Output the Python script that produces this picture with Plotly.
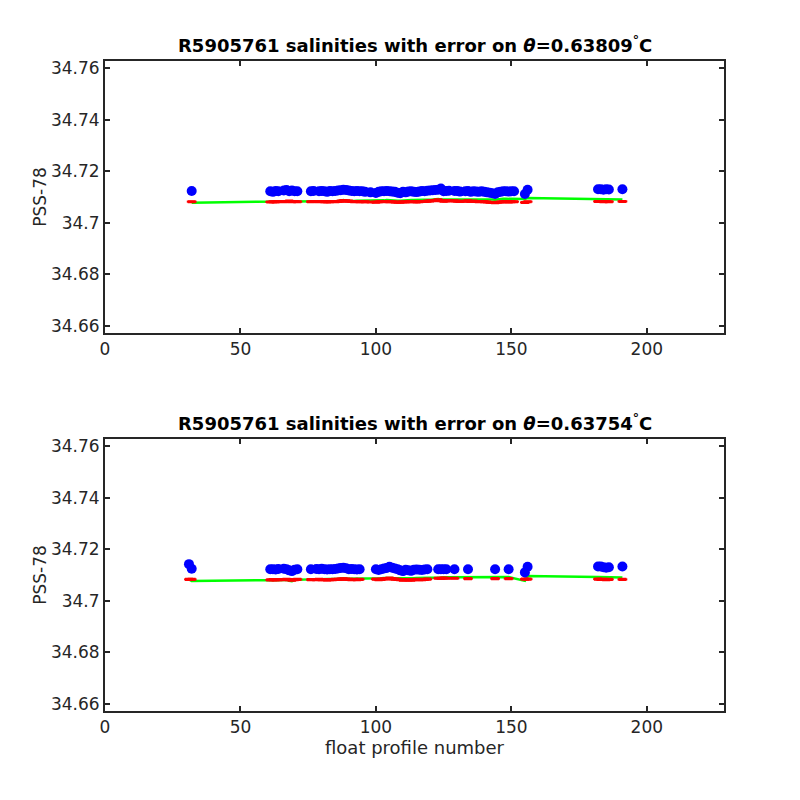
import plotly.graph_objects as go
from plotly.subplots import make_subplots

# ---------------- data ----------------
theta_top = "0.63809"
theta_bot = "0.63754"

prof_top = [32, 61, 62, 63, 64, 66, 67, 68, 69, 70,
            71, 76, 77, 79, 80, 81, 82, 83, 84, 85,
            86, 87, 88, 89, 90, 91, 92, 93, 94, 95,
            96, 98, 100, 101, 102, 103, 104, 105, 106, 107,
            108, 109, 110, 111, 112, 113, 114, 115, 116, 117,
            118, 119, 120, 121, 122, 123, 124, 125, 126, 127,
            129, 130, 131, 133, 134, 135, 136, 137, 138, 139,
            140, 141, 142, 143, 144, 145, 146, 147, 148, 149,
            150, 151, 155, 156, 182, 183, 184, 185, 186, 191]

sal_top = [34.7123, 34.7122, 34.7120, 34.7123, 34.7122, 34.7125, 34.7127, 34.7122, 34.7125, 34.7122,
           34.7122, 34.7122, 34.7123, 34.7122, 34.7123, 34.7122, 34.7120, 34.7123, 34.7122, 34.7123,
           34.7125, 34.7126, 34.7128, 34.7127, 34.7125, 34.7123, 34.7122, 34.7123, 34.7122, 34.7122,
           34.7120, 34.7118, 34.7116, 34.7120, 34.7122, 34.7122, 34.7123, 34.7122, 34.7121, 34.7120,
           34.7117, 34.7115, 34.7120, 34.7118, 34.7121, 34.7122, 34.7120, 34.7119, 34.7121, 34.7123,
           34.7122, 34.7124, 34.7125, 34.7126, 34.7127, 34.7128, 34.7133, 34.7122, 34.7123, 34.7124,
           34.7123, 34.7123, 34.7121, 34.7122, 34.7123, 34.7120, 34.7122, 34.7121, 34.7120, 34.7122,
           34.7120, 34.7118, 34.7117, 34.7115, 34.7112, 34.7118, 34.7120, 34.7122, 34.7122, 34.7121,
           34.7122, 34.7122, 34.7112, 34.7128, 34.7130, 34.7130, 34.7128, 34.7130, 34.7129, 34.7130]

map_top = [34.7082, 34.7081, 34.7082, 34.7081, 34.7083, 34.7082, 34.7083, 34.7084, 34.7082, 34.7083,
           34.7082, 34.7082, 34.7083, 34.7082, 34.7083, 34.7082, 34.7081, 34.7082, 34.7083, 34.7082,
           34.7083, 34.7084, 34.7086, 34.7085, 34.7084, 34.7083, 34.7082, 34.7083, 34.7082, 34.7082,
           34.7082, 34.7081, 34.7080, 34.7082, 34.7083, 34.7082, 34.7083, 34.7082, 34.7082, 34.7081,
           34.7080, 34.7080, 34.7082, 34.7081, 34.7082, 34.7083, 34.7082, 34.7081, 34.7082, 34.7083,
           34.7083, 34.7084, 34.7085, 34.7086, 34.7087, 34.7089, 34.7086, 34.7084, 34.7085, 34.7086,
           34.7085, 34.7084, 34.7083, 34.7084, 34.7085, 34.7083, 34.7084, 34.7083, 34.7082, 34.7083,
           34.7082, 34.7081, 34.7080, 34.7079, 34.7078, 34.7080, 34.7081, 34.7082, 34.7082, 34.7081,
           34.7082, 34.7082, 34.7079, 34.7082, 34.7083, 34.7083, 34.7082, 34.7083, 34.7082, 34.7083]

err_top = [0.0003] * 90

fit_top = [34.7078, 34.7081, 34.7080, 34.7081, 34.7082, 34.7081, 34.7083, 34.7084, 34.7082, 34.7083,
           34.7083, 34.7083, 34.7084, 34.7083, 34.7084, 34.7084, 34.7083, 34.7084, 34.7085, 34.7085,
           34.7085, 34.7086, 34.7088, 34.7086, 34.7085, 34.7086, 34.7085, 34.7086, 34.7086, 34.7086,
           34.7086, 34.7086, 34.7085, 34.7087, 34.7087, 34.7087, 34.7088, 34.7087, 34.7087, 34.7087,
           34.7086, 34.7086, 34.7087, 34.7087, 34.7088, 34.7088, 34.7088, 34.7088, 34.7088, 34.7089,
           34.7089, 34.7089, 34.7090, 34.7090, 34.7091, 34.7092, 34.7090, 34.7090, 34.7090, 34.7091,
           34.7091, 34.7091, 34.7091, 34.7091, 34.7092, 34.7091, 34.7092, 34.7092, 34.7092, 34.7092,
           34.7092, 34.7092, 34.7091, 34.7090, 34.7089, 34.7091, 34.7092, 34.7093, 34.7093, 34.7093,
           34.7093, 34.7094, 34.7092, 34.7096, 34.7091, 34.7091, 34.7091, 34.7091, 34.7091, 34.7090]

prof_bot = [31, 32, 61, 62, 63, 64, 66, 67, 68, 69,
            70, 71, 76, 78, 79, 80, 81, 82, 83, 84,
            85, 86, 87, 88, 89, 90, 91, 92, 93, 94,
            100, 101, 102, 103, 104, 105, 106, 107, 108, 109,
            110, 111, 112, 113, 114, 115, 116, 117, 118, 119,
            123, 124, 125, 126, 129, 134, 144, 149, 155, 156,
            182, 183, 184, 185, 186, 191]

sal_bot = [34.7142, 34.7124, 34.7122, 34.7122, 34.7121, 34.7123, 34.7124, 34.7122, 34.7118, 34.7115,
           34.7120, 34.7122, 34.7122, 34.7123, 34.7122, 34.7124, 34.7122, 34.7121, 34.7122, 34.7122,
           34.7123, 34.7125, 34.7127, 34.7128, 34.7126, 34.7122, 34.7123, 34.7122, 34.7121, 34.7122,
           34.7122, 34.7119, 34.7122, 34.7125, 34.7127, 34.7132, 34.7128, 34.7125, 34.7122, 34.7118,
           34.7115, 34.7120, 34.7118, 34.7116, 34.7120, 34.7121, 34.7120, 34.7119, 34.7121, 34.7122,
           34.7122, 34.7122, 34.7122, 34.7122, 34.7122, 34.7122, 34.7122, 34.7122, 34.7110, 34.7132,
           34.7133, 34.7133, 34.7130, 34.7128, 34.7130, 34.7133]

map_bot = [34.7083, 34.7083, 34.7081, 34.7082, 34.7081, 34.7082, 34.7082, 34.7083, 34.7082, 34.7080,
           34.7082, 34.7083, 34.7082, 34.7082, 34.7083, 34.7082, 34.7082, 34.7081, 34.7082, 34.7082,
           34.7083, 34.7083, 34.7084, 34.7085, 34.7084, 34.7083, 34.7082, 34.7083, 34.7082, 34.7083,
           34.7084, 34.7082, 34.7083, 34.7085, 34.7086, 34.7088, 34.7085, 34.7084, 34.7083, 34.7082,
           34.7080, 34.7082, 34.7081, 34.7080, 34.7082, 34.7083, 34.7082, 34.7082, 34.7083, 34.7084,
           34.7087, 34.7087, 34.7088, 34.7087, 34.7087, 34.7086, 34.7086, 34.7086, 34.7084, 34.7084,
           34.7084, 34.7083, 34.7083, 34.7082, 34.7083, 34.7083]

err_bot = [0.0003] * 66

fit_bot = [34.7083, 34.7077, 34.7080, 34.7080, 34.7081, 34.7081, 34.7082, 34.7081, 34.7078, 34.7076,
           34.7080, 34.7082, 34.7083, 34.7083, 34.7084, 34.7084, 34.7083, 34.7083, 34.7084, 34.7084,
           34.7085, 34.7085, 34.7086, 34.7087, 34.7086, 34.7085, 34.7085, 34.7085, 34.7085, 34.7086,
           34.7087, 34.7086, 34.7087, 34.7088, 34.7088, 34.7090, 34.7088, 34.7087, 34.7087, 34.7086,
           34.7085, 34.7086, 34.7086, 34.7086, 34.7087, 34.7088, 34.7088, 34.7088, 34.7088, 34.7089,
           34.7090, 34.7090, 34.7091, 34.7091, 34.7091, 34.7091, 34.7092, 34.7092, 34.7077, 34.7096,
           34.7092, 34.7092, 34.7091, 34.7091, 34.7091, 34.7090]

y_tickvals = [34.66, 34.68, 34.70, 34.72, 34.74, 34.76]
y_ticktext = ["34.66", "34.68", "34.7", "34.72", "34.74", "34.76"]
x_tickvals = [0, 50, 100, 150, 200]
x_ticktext = ["0", "50", "100", "150", "200"]

# ---------------- figure ----------------
FONT = "DejaVu Sans"
AX = "#262626"

fig = make_subplots(rows=2, cols=1, vertical_spacing=0.163)

panels = [(prof_top, sal_top, map_top, err_top, fit_top),
          (prof_bot, sal_bot, map_bot, err_bot, fit_bot)]

for i, (p, s, m, e, g) in enumerate(panels, start=1):
    fig.add_trace(go.Scatter(x=p, y=g, mode="lines",
                             line=dict(color="#00ff00", width=2.5),
                             showlegend=False, hoverinfo="skip"), row=i, col=1)
    fig.add_trace(go.Scatter(x=p, y=m, mode="markers",
                             marker=dict(color="red", size=7, symbol="line-ew",
                                         line=dict(color="red", width=2)),
                             error_y=dict(type="data", array=e, visible=True,
                                          color="red", thickness=1.5, width=4),
                             showlegend=False), row=i, col=1)
    fig.add_trace(go.Scatter(x=p, y=s, mode="markers",
                             marker=dict(color="blue", size=10, line=dict(width=0)),
                             showlegend=False), row=i, col=1)

fig.update_layout(
    width=800, height=800,
    margin=dict(l=97, r=84, t=53, b=97, autoexpand=False),
    paper_bgcolor="white", plot_bgcolor="white",
    font=dict(family=FONT, size=17, color=AX),
)

for i in (1, 2):
    fig.update_xaxes(range=[0, 228.5], tickvals=x_tickvals, ticktext=x_ticktext,
                     showgrid=False, zeroline=False, showline=True, linecolor=AX,
                     linewidth=2, mirror="ticks", ticks="inside", ticklen=5,
                     tickwidth=1.5, tickcolor=AX, automargin=False,
                     tickfont=dict(family=FONT, size=17, color=AX), row=i, col=1)
    fig.update_yaxes(range=[34.6573, 34.7627], tickvals=y_tickvals, ticktext=y_ticktext,
                     showgrid=False, zeroline=False, showline=True, linecolor=AX,
                     linewidth=2, mirror="ticks", ticks="inside", ticklen=5,
                     tickwidth=1.5, tickcolor=AX, automargin=False,
                     title=dict(text="PSS-78", font=dict(family=FONT, size=17, color=AX),
                                standoff=0),
                     tickfont=dict(family=FONT, size=17, color=AX), row=i, col=1)

fig.update_xaxes(title=dict(text="float profile number",
                            font=dict(family=FONT, size=18, color=AX), standoff=2),
                 row=2, col=1)

for i, th in ((1, theta_top), (2, theta_bot)):
    dom = fig.layout["yaxis" if i == 1 else "yaxis2"].domain
    fig.add_annotation(
        x=0.5, y=dom[1], xref="paper", yref="paper",
        xanchor="center", yanchor="bottom", yshift=3, showarrow=False,
        text="<b>R5905761 salinities with error on <i>θ</i>=" + th + "<sup>°</sup>C</b>",
        font=dict(family=FONT, size=18, color="black"))

fig.write_html("out.html")
